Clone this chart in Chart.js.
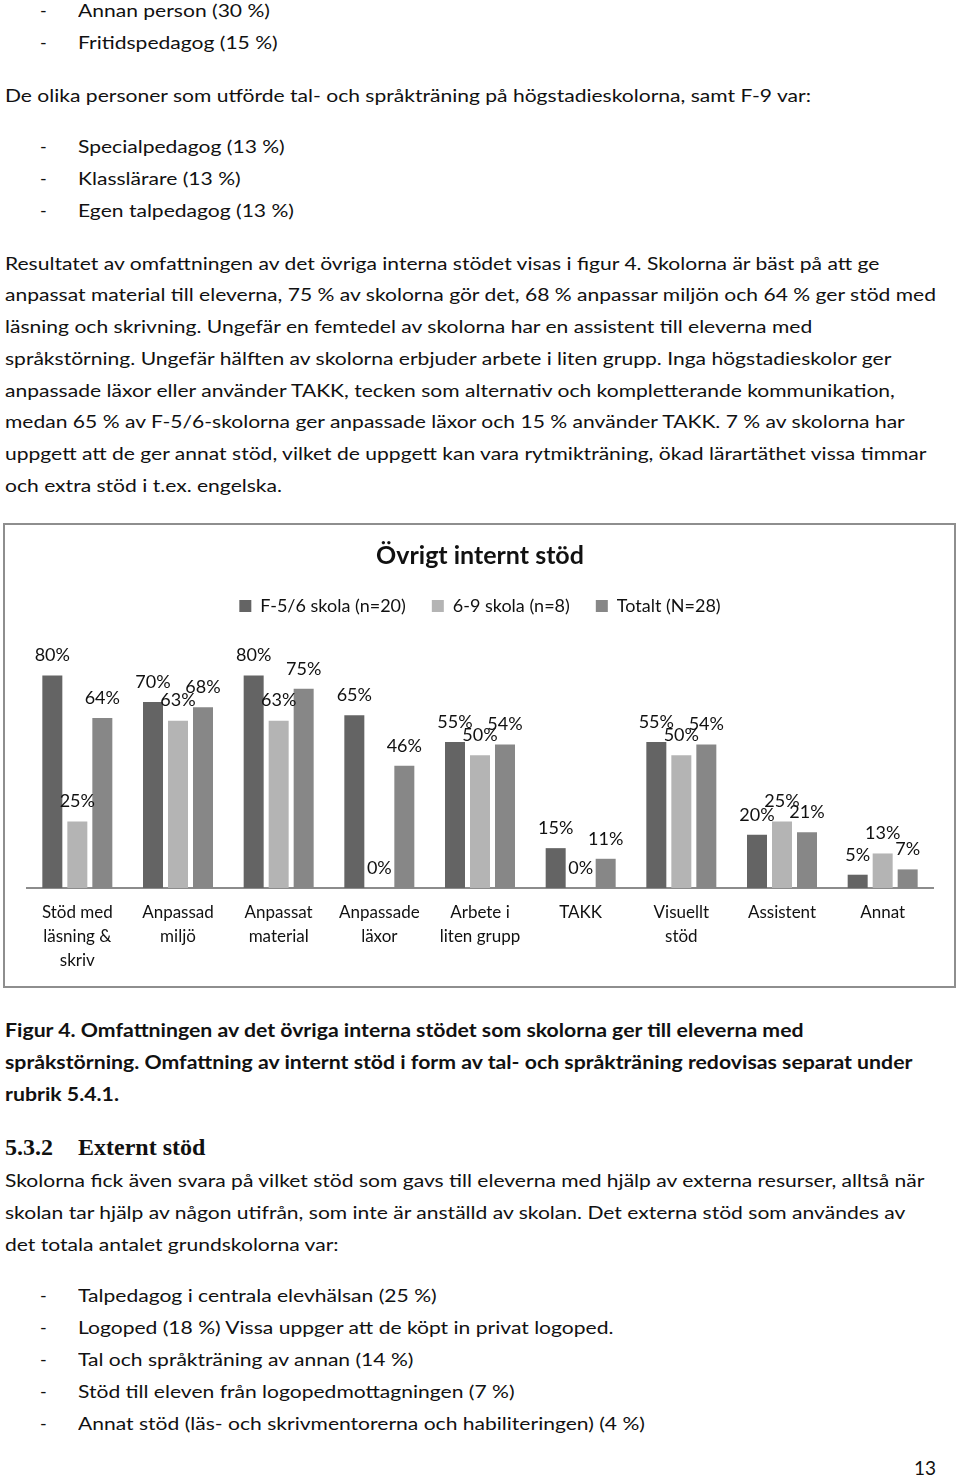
<!DOCTYPE html>
<html>
<head>
<meta charset="utf-8">
<script src="https://cdn.jsdelivr.net/npm/chart.js@4.4.0/dist/chart.umd.min.js"></script>
<style>
    body { margin: 0; background: #fff; font-family: Lato, sans-serif; color: #111; }
    #page { position: relative; width: 960px; height: 1478px; overflow: hidden; }
    .ln { position: absolute; left: 5px; white-space: nowrap; font-size: 18px; line-height: 24px; transform-origin: 0 50%; }
    .li { left: 78px; }
    .dash { position: absolute; left: 40px; font-size: 18px; line-height: 24px; }
    .cap { position: absolute; left: 5px; white-space: nowrap; font-size: 18px; line-height: 24px; font-weight: bold; transform-origin: 0 50%; }
    .head { position: absolute; top: 1133px; font-family: "Liberation Serif", serif; font-weight: bold; font-size: 24px; line-height: 28px; }
    #chartBox { position: absolute; left: 3px; top: 523px; width: 953px; height: 465px; border: 2px solid #8e8e8e; box-sizing: border-box; }
    #chartWrap { position: relative; width: 949px; height: 461px; }
    #pageNo { position: absolute; left: 914px; top: 1456px; font-size: 19px; line-height: 24px; }
</style>
</head>
<body>
<div id="page">
    <div class="dash" style="top:-2px">-</div><div class="ln li" style="top:-2px">Annan person (30 %)</div>
    <div class="dash" style="top:30px">-</div><div class="ln li" style="top:30px">Fritidspedagog (15 %)</div>
    <div class="ln" style="top:83px">De olika personer som utförde tal- och språkträning på högstadieskolorna, samt F-9 var:</div>
    <div class="dash" style="top:134px">-</div><div class="ln li" style="top:134px">Specialpedagog (13 %)</div>
    <div class="dash" style="top:166px">-</div><div class="ln li" style="top:166px">Klasslärare (13 %)</div>
    <div class="dash" style="top:198px">-</div><div class="ln li" style="top:198px">Egen talpedagog (13 %)</div>

    <div class="ln" style="top:251px">Resultatet av omfattningen av det övriga interna stödet visas i figur 4. Skolorna är bäst på att ge</div>
    <div class="ln" id="bodyRef" style="top:282px">anpassat material till eleverna, 75 % av skolorna gör det, 68 % anpassar miljön och 64 % ger stöd med</div>
    <div class="ln" style="top:314px">läsning och skrivning. Ungefär en femtedel av skolorna har en assistent till eleverna med</div>
    <div class="ln" style="top:346px">språkstörning. Ungefär hälften av skolorna erbjuder arbete i liten grupp. Inga högstadieskolor ger</div>
    <div class="ln" style="top:378px">anpassade läxor eller använder TAKK, tecken som alternativ och kompletterande kommunikation,</div>
    <div class="ln" style="top:409px">medan 65 % av F-5/6-skolorna ger anpassade läxor och 15 % använder TAKK. 7 % av skolorna har</div>
    <div class="ln" style="top:441px">uppgett att de ger annat stöd, vilket de uppgett kan vara rytmikträning, ökad lärartäthet vissa timmar</div>
    <div class="ln" style="top:473px">och extra stöd i t.ex. engelska.</div>

    <div id="chartBox"><div id="chartWrap"><canvas id="stodChart"></canvas></div></div>

    <div class="cap" style="top:1018px">Figur 4. Omfattningen av det övriga interna stödet som skolorna ger till eleverna med</div>
    <div class="cap" id="capRef" style="top:1050px">språkstörning. Omfattning av internt stöd i form av tal- och språkträning redovisas separat under</div>
    <div class="cap" style="top:1082px">rubrik 5.4.1.</div>

    <div class="head" style="left:5px">5.3.2</div>
    <div class="head" style="left:78px">Externt stöd</div>

    <div class="ln" style="top:1168px">Skolorna fick även svara på vilket stöd som gavs till eleverna med hjälp av externa resurser, alltså när</div>
    <div class="ln" style="top:1200px">skolan tar hjälp av någon utifrån, som inte är anställd av skolan. Det externa stöd som användes av</div>
    <div class="ln" style="top:1232px">det totala antalet grundskolorna var:</div>

    <div class="dash" style="top:1283px">-</div><div class="ln li" style="top:1283px">Talpedagog i centrala elevhälsan (25 %)</div>
    <div class="dash" style="top:1315px">-</div><div class="ln li" style="top:1315px">Logoped (18 %) Vissa uppger att de köpt in privat logoped.</div>
    <div class="dash" style="top:1347px">-</div><div class="ln li" style="top:1347px">Tal och språkträning av annan (14 %)</div>
    <div class="dash" style="top:1379px">-</div><div class="ln li" style="top:1379px">Stöd till eleven från logopedmottagningen (7 %)</div>
    <div class="dash" style="top:1411px">-</div><div class="ln li" style="top:1411px">Annat stöd (läs- och skrivmentorerna och habiliteringen) (4 %)</div>

    <div id="pageNo">13</div>
</div>
<script>
// Chart data
var categories = [
    ['Stöd med', 'läsning &', 'skriv'],
    ['Anpassad', 'miljö'],
    ['Anpassat', 'material'],
    ['Anpassade', 'läxor'],
    ['Arbete i', 'liten grupp'],
    'TAKK',
    ['Visuellt', 'stöd'],
    'Assistent',
    'Annat'
];
var seriesNames = ['F-5/6 skola (n=20)', '6-9 skola (n=8)', 'Totalt (N=28)'];
var f56Values = [80, 70, 80, 65, 55, 15, 55, 20, 5];
var s69Values = [25, 63, 63, 0, 50, 0, 50, 25, 13];
var totalValues = [64, 68, 75, 46, 54, 11, 54, 21, 7];
var seriesColors = ['#646464', '#b4b4b4', '#878787'];

// squeeze text lines so they run as wide as in the scanned page
function fitLines(selector, refId, target) {
    var ref = document.getElementById(refId);
    var scale = target / ref.scrollWidth;
    document.querySelectorAll(selector).forEach(function(el) {
        el.style.transform = 'scaleX(' + scale + ')';
    });
}
fitLines('.ln', 'bodyRef', 931);
fitLines('.cap', 'capRef', 908);

// value labels above each bar
var barLabels = {
    id: 'barLabels',
    afterDatasetsDraw: function(chart) {
        var ctx = chart.ctx;
        ctx.save();
        ctx.font = '18px Lato';
        ctx.fillStyle = '#111';
        ctx.textAlign = 'center';
        ctx.textBaseline = 'middle';
        chart.data.datasets.forEach(function(ds, i) {
            chart.getDatasetMeta(i).data.forEach(function(bar, j) {
                ctx.fillText(ds.data[j] + '%', bar.x, bar.y - 20);
            });
        });
        ctx.restore();
    }
};

var values = [f56Values, s69Values, totalValues];
var datasets = seriesNames.map(function(name, i) {
    return {
        label: name,
        data: values[i],
        backgroundColor: seriesColors[i],
        borderWidth: 0,
        categoryPercentage: 0.745,
        barPercentage: 0.8
    };
});

new Chart(document.getElementById('stodChart'), {
    type: 'bar',
    data: { labels: categories, datasets: datasets },
    plugins: [barLabels],
    options: {
        responsive: true,
        maintainAspectRatio: false,
        animation: false,
        layout: { padding: { top: 0, left: 22, right: 21, bottom: 0 } },
        plugins: {
            title: {
                display: true,
                text: 'Övrigt internt stöd',
                color: '#111',
                font: { family: 'Lato', size: 25, weight: 'bold', lineHeight: 1.2 },
                padding: { top: 16, bottom: 0 }
            },
            legend: {
                display: true,
                labels: {
                    boxWidth: 12,
                    boxHeight: 12,
                    padding: 26,
                    color: '#111',
                    font: { family: 'Lato', size: 18 }
                }
            },
            tooltip: { enabled: false }
        },
        scales: {
            x: {
                grid: { display: false, drawTicks: false },
                border: { display: true, color: '#8c8c8c', width: 2 },
                ticks: {
                    color: '#111',
                    padding: 13,
                    maxRotation: 0,
                    autoSkip: false,
                    font: { family: 'Lato', size: 17, lineHeight: '24px' }
                }
            },
            y: {
                display: false,
                min: 0,
                max: 99
            }
        }
    }
});
</script>
</body>
</html>
